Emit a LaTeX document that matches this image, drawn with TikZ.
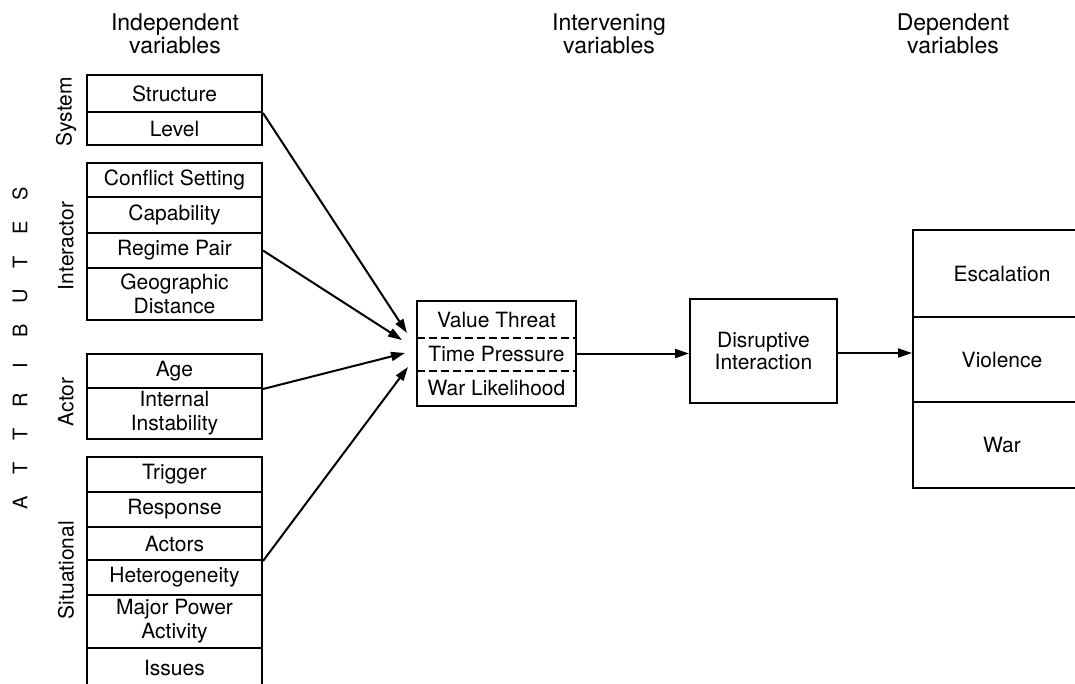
\documentclass[tikz,border=0pt]{standalone}
\usepackage{fontspec}
\setmainfont{TeX Gyre Heros}
\usetikzlibrary{arrows.meta}
\begin{document}
\begin{tikzpicture}[x=1pt,y=-1pt,line width=2pt,
  cell/.style={draw, minimum width=175pt, inner sep=0pt, align=center, font=\fontsize{21}{24}\selectfont},
  mid/.style={minimum width=157pt, inner sep=0pt, align=center, font=\fontsize{21}{24}\selectfont},
  dep/.style={draw, minimum width=178pt, inner sep=0pt, align=center, font=\fontsize{21}{24}\selectfont},
  head/.style={align=center, inner sep=0pt, font=\fontsize{23}{23}\selectfont},
  vlabel/.style={rotate=90, inner sep=0pt, font=\fontsize{21}{24}\selectfont},
  letter/.style={rotate=90, inner sep=0pt, font=\fontsize{20}{24}\selectfont},
  conn/.style={-{Triangle[length=14pt,width=9pt]}, line width=2pt}]
\useasboundingbox (0,0) rectangle (1075,683);
\clip (0,0) rectangle (1075,683);
\fill[white] (0,0) rectangle (1075,683);

% headers
\node[head] (hind) at (175,34) {Independent\\variables};
\node[head] (hint) at (609,34) {Intervening\\variables};
\node[head] (hdep) at (953,34) {Dependent\\variables};

% ATTRIBUTES
\foreach \l [count=\i from 0] in {A,T,T,R,I,B,U,T,E,S}
  \node[letter] (att\i) at (20,503-34.4*\i) {\l};

% group labels
\node[vlabel] (lsys) at (66,112) {System};
\node[vlabel] (lint) at (66,246) {Interactor};
\node[vlabel] (lact) at (66,402) {Actor};
\node[vlabel] (lsit) at (66,570) {Situational};

% independent variable cells
\node[cell, minimum height=37pt] (structure) at (174.5,93.5) {Structure};
\node[cell, minimum height=33pt] (level) at (174.5,128.5) {Level};
\node[cell, minimum height=34pt] (conflict) at (174.5,180) {Conflict Setting};
\node[cell, minimum height=36pt] (capability) at (174.5,215) {Capability};
\node[cell, minimum height=35pt] (regime) at (174.5,250.5) {Regime Pair};
\node[cell, minimum height=52pt] (geo) at (174.5,294) {Geographic\\Distance};
\node[cell, minimum height=34pt] (age) at (174.5,371) {Age};
\node[cell, minimum height=51pt] (internal) at (174.5,413.5) {Internal\\Instability};
\node[cell, minimum height=35pt] (trigger) at (174.5,474.5) {Trigger};
\node[cell, minimum height=35pt] (response) at (174.5,509.5) {Response};
\node[cell, minimum height=33pt] (actors) at (174.5,543.5) {Actors};
\node[cell, minimum height=35pt] (hetero) at (174.5,577.5) {Heterogeneity};
\node[cell, minimum height=53pt] (major) at (174.5,621.5) {Major Power\\Activity};
\node[cell, minimum height=40pt] (issues) at (174.5,668) {Issues};

% intervening box
\node[mid, minimum height=35pt] (vt) at (496.5,319.5) {Value Threat};
\node[mid, minimum height=33pt] (tp) at (496.5,353.5) {Time Pressure};
\node[mid, minimum height=35pt] (wl) at (496.5,387.5) {War Likelihood};
\draw (vt.north west) rectangle (wl.south east);
\draw[dashed, dash pattern=on 8pt off 4pt] (vt.south west) -- (vt.south east);
\draw[dashed, dash pattern=on 8pt off 4pt] (tp.south west) -- (tp.south east);

% disruptive interaction
\node[draw, minimum width=147pt, minimum height=104pt, inner sep=0pt, align=center,
      font=\fontsize{21}{22}\selectfont] (dis) at (763.5,351) {Disruptive\\Interaction};

% dependent box
\node[dep, minimum height=87pt] (esc) at (1002,273.5) {Escalation};
\node[dep, minimum height=85pt] (vio) at (1002,359.5) {Violence};
\node[dep, minimum height=86pt] (war) at (1002,445) {War};

% arrow targets
\coordinate (t1) at (407,333);
\coordinate (t2) at (402,340);
\coordinate (t3) at (405,353);
\coordinate (t4) at (408,367);

\draw[conn] (structure.south east) -- (t1);
\draw[conn] (regime.east) -- (t2);
\draw[conn] (age.south east) -- (t3);
\draw[conn] (actors.south east) -- (t4);

\draw[conn] (tp.east) -- (dis.west |- tp.east);
\draw[conn] (dis.east |- 0,353) -- (vio.west |- 0,353);
\end{tikzpicture}
\end{document}
